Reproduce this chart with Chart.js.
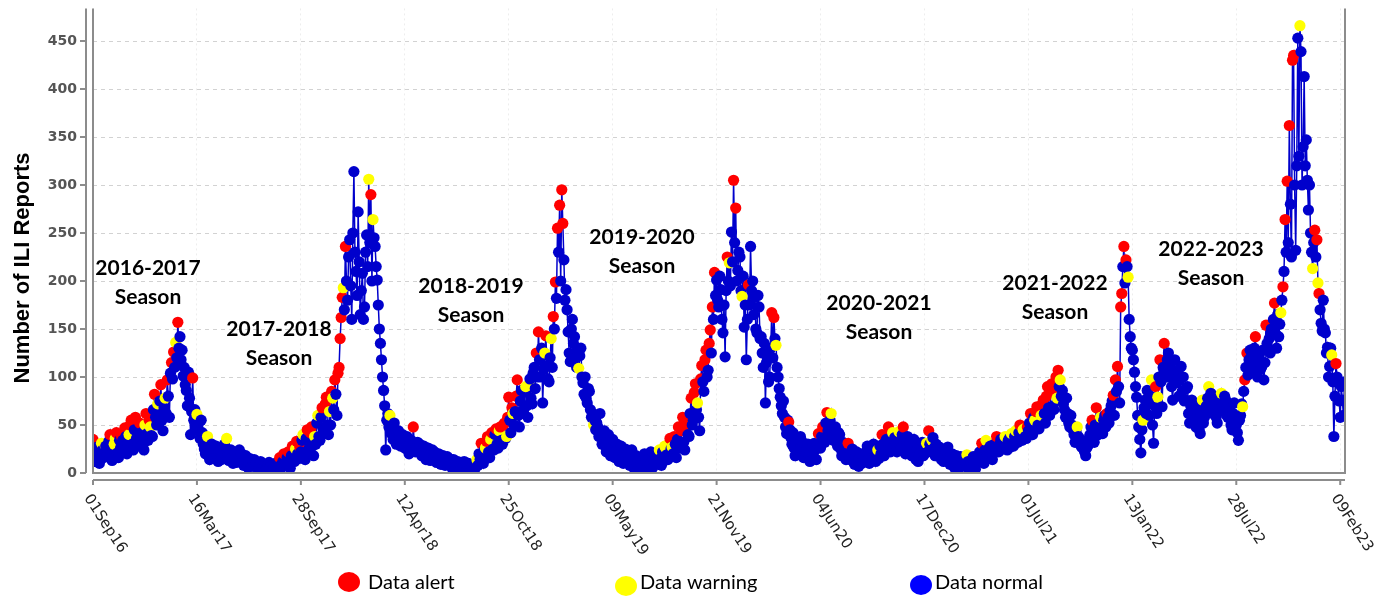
<!DOCTYPE html>
<html>
<head>
<meta charset="utf-8">
<title>ILI Reports</title>
<script src="https://cdn.jsdelivr.net/npm/chart.js@4.4.1/dist/chart.umd.min.js"></script>
<style>
  html, body { margin: 0; padding: 0; background: #fff; }
  #wrap { width: 1377px; height: 596px; position: relative; }
</style>
</head>
<body>
<div id="wrap"><canvas id="iliChart"></canvas></div>
<script>
// x axis: days since 01Sep16, one label every 28 weeks
var tickDays = [0, 196, 392, 588, 784, 980, 1176, 1372, 1568, 1764, 1960, 2156, 2352];
var tickLabels = ['01Sep16', '16Mar17', '28Sep17', '12Apr18', '25Oct18', '09May19', '21Nov19',
    '04Jun20', '17Dec20', '01Jul21', '13Jan22', '28Jul22', '09Feb23'];
var yTicks = [0, 50, 100, 150, 200, 250, 300, 350, 400, 450];

// readings every 2 days, one block of 52 weeks per array
var seasonStarts = [0, 364, 728, 1092, 1456, 1820, 2184];
var stepDays = 2;

var reports2016 = [
    35,22,12,25,27,14,10,20,31,24,16,30,28,18,  22,33,40,19,13,28,30,36,42,21,16,34,26,38,
    34,27,47,38,20,31,40,50,55,30,24,45,58,36,  28,44,52,35,42,30,24,50,62,41,34,55,48,39,
    38,66,82,58,50,72,60,75,92,55,44,68,78,62,  97,80,58,104,115,98,126,110,136,120,157,130,142,118,
    128,101,110,92,86,70,105,78,40,64,99,55,66,48,  61,50,44,36,55,42,30,25,20,32,38,22,14,27,
    30,20,16,25,28,18,12,22,24,14,15,26,30,19,  36,18,13,20,24,15,10,19,21,11,12,18,24,16,
    20,12,8,15,18,10,6,13,15,9,7,12,14,8,  10,6,3,8,12,5,2,7,9,4,4,9,11,6,  7,4,2,6,10,5,4,9,16,8,6,12,20,10];
var reports2017 = [
    10,16,22,9,5,18,28,14,12,25,33,20,15,27,  22,34,40,20,14,36,45,24,26,42,48,28,18,38,
    30,52,60,38,34,58,68,46,44,72,79,50,40,64,  50,85,78,66,97,82,60,104,110,140,162,183,193,170,
    236,200,180,225,243,195,160,250,314,230,210,185,272,220,  165,190,208,160,173,230,248,215,306,240,290,200,264,245,
    236,215,201,175,150,135,118,100,86,70,24,55,62,48,  60,45,40,35,52,38,30,42,44,32,28,36,40,30,
    26,33,38,24,20,30,34,27,48,30,22,28,32,25,  30,22,18,25,28,17,14,23,26,16,13,21,24,15,
    22,14,11,18,20,12,9,16,18,10,8,15,17,9,  15,9,6,12,14,7,4,10,12,5,3,8,11,6,  12,5,2,8,10,4,2,7,8,3,4,10,14,8];
var reports2018 = [
    20,14,31,18,10,24,26,33,38,22,16,35,42,25,  24,40,46,30,26,44,48,34,30,50,52,36,38,58,
    79,55,42,68,62,50,64,80,97,60,48,75,86,62,  66,84,90,70,58,92,98,78,72,104,110,88,125,100,
    147,118,100,130,73,108,125,143,112,98,95,120,140,110,  163,150,199,182,255,230,279,200,295,260,222,180,191,170,
    147,125,116,150,160,135,142,120,110,130,109,122,130,100,  94,82,100,78,73,88,85,66,58,62,50,55,45,52,
    48,38,62,42,30,36,44,28,22,34,40,26,18,30,  35,24,16,27,30,19,12,22,28,15,10,20,25,14,
    20,13,8,17,24,11,5,14,18,9,4,12,16,10,  12,8,20,14,4,11,15,9,22,16,6,13,18,11,  10,18,24,15,8,22,20,28,26,19,14,30,36,25];
var reports2019 = [
    27,20,38,30,16,35,48,26,28,44,58,32,24,50,  55,40,38,62,78,50,55,84,93,66,73,58,44,98,
    112,95,85,118,128,100,107,135,149,125,173,160,209,185,  201,180,173,205,191,160,146,175,121,190,225,200,219,195,
    251,220,305,240,276,200,211,230,225,190,184,205,152,175,  118,160,196,175,236,190,200,165,183,150,146,185,173,140,
    142,125,110,135,73,115,121,95,100,130,167,120,162,140,  133,110,100,88,79,70,62,75,58,48,41,55,53,45,
    37,30,42,26,18,33,35,22,24,38,34,20,16,28,  20,25,30,18,12,22,26,20,31,24,14,30,41,27,
    26,38,48,35,32,52,63,44,40,55,62,42,34,46,  48,36,28,42,40,25,18,32,30,20,14,24,31,19,  14,20,25,12,9,18,22,11,7,16,20,10,12,18];
var reports2020 = [
    16,22,28,14,10,19,24,17,30,21,12,26,24,15,  28,20,40,30,18,26,35,24,48,33,22,36,42,27,
    37,30,22,35,43,28,26,40,48,32,20,29,38,25,  31,22,18,27,35,20,14,24,12,19,28,22,32,18,
    20,27,31,22,44,30,24,34,37,26,18,30,28,21,  27,19,14,22,12,17,24,15,27,12,9,18,20,11,
    6,12,18,9,4,13,17,7,8,14,15,10,19,12,  3,8,12,6,17,10,4,11,14,18,22,15,31,20,
    10,24,34,20,16,26,28,18,14,27,30,22,38,26,  22,30,35,25,26,33,38,28,24,34,36,27,41,30,
    28,38,44,33,32,42,50,36,34,45,46,38,36,48,  44,52,62,47,40,58,55,64,69,50,46,66,60,72,  76,62,52,80,90,68,60,85,93,70,66,88,100,78];
var reports2021 = [
    107,90,97,80,86,72,66,58,78,62,52,48,60,50,  45,40,32,44,48,38,36,30,27,33,25,22,18,26,
    28,36,40,48,55,42,32,50,68,45,40,52,58,46,  41,55,60,48,62,58,52,65,70,75,81,60,97,85,
    111,90,73,173,187,215,236,198,222,215,204,160,142,130,  128,118,105,90,79,60,48,35,21,45,55,68,76,62,
    86,72,60,80,97,50,31,70,90,62,79,100,118,95,  69,110,135,105,100,118,125,100,111,90,76,105,118,96,
    94,105,80,98,111,85,100,75,76,88,90,62,52,70,  76,60,65,55,48,70,60,45,41,62,76,52,58,68,
    70,78,90,65,83,72,62,80,75,58,52,66,68,75,  83,70,64,80,76,60,58,68,70,50,45,62,73,55,  50,42,34,55,60,72,69,85,97,110,125,102,118,128];
var reports2022 = [
    121,105,110,130,142,115,100,120,125,108,111,128,97,115,  154,135,128,140,125,150,146,160,177,145,130,165,142,155,
    167,180,194,210,264,230,304,240,362,280,225,430,435,300,  232,320,453,330,466,439,300,340,413,320,347,305,274,300,
    250,230,213,240,253,225,243,198,187,170,156,148,180,150,  146,125,131,100,111,130,123,95,38,80,114,100,94,75,
    58,90,76,60,95];

// 0 = normal, 1 = warning, 2 = alert
var status2016 = [
    2,0,0,0,0,0,0,0,1,0,0,1,0,0,  0,0,2,0,0,0,1,1,2,0,0,0,0,2,  0,0,2,0,0,0,1,2,2,0,0,0,2,0,
    0,0,2,0,0,0,0,1,2,0,0,2,1,0,  0,0,2,0,0,1,0,0,2,0,0,0,1,0,  2,0,0,0,2,0,2,0,1,0,2,0,0,0,
    0,0,0,0,0,0,0,0,0,0,2,0,0,0,  1,0,0,0,0,0,0,0,0,0,1,0,0,0,  0,0,0,0,0,0,0,0,0,0,0,0,0,0,
    1,0,0,0,0,0,0,0,0,0,0,0,0,0,  0,0,0,0,0,0,0,0,0,0,0,0,0,0,  0,0,0,0,0,0,0,0,0,0,0,0,0,0,
    0,0,0,0,0,0,0,0,2,0,0,0,2,0];
var status2017 = [
    0,0,2,0,0,0,2,0,0,1,2,0,0,2,  0,0,1,0,0,0,2,0,0,2,2,0,0,1,  0,0,1,0,0,0,2,0,0,2,2,0,0,1,
    0,2,1,0,2,0,0,2,2,2,2,2,1,0,  2,0,0,0,0,0,0,0,0,0,0,0,0,0,  0,0,0,0,0,0,0,0,1,0,2,0,1,0,
    0,0,0,0,0,0,0,0,0,0,0,0,0,0,  1,0,0,0,0,0,0,0,0,0,0,0,0,0,  0,0,0,0,0,0,0,0,2,0,0,0,0,0,
    0,0,0,0,0,0,0,0,0,0,0,0,0,0,  0,0,0,0,0,0,0,0,0,0,0,0,0,0,  0,0,0,0,0,0,0,0,0,0,0,0,0,0,
    0,0,0,0,0,0,0,0,0,0,0,0,1,0];
var status2018 = [
    0,0,2,0,0,0,1,2,2,0,0,1,2,0,  0,0,2,0,0,1,2,0,0,2,2,0,1,2,  2,0,0,2,1,0,0,2,2,0,0,0,0,0,
    0,0,1,0,0,1,0,0,0,0,0,0,2,0,  2,0,0,0,0,0,1,2,0,0,0,0,1,0,  2,0,2,0,2,0,2,0,2,2,0,0,0,0,
    0,0,0,0,0,0,0,0,0,0,1,0,0,0,  0,0,0,0,0,0,0,0,0,0,1,0,0,0,  0,0,0,0,0,0,0,0,0,0,0,0,0,0,
    0,0,0,0,0,0,0,0,0,0,0,0,0,0,  0,0,0,0,0,0,0,0,0,0,0,0,0,0,  0,0,0,0,0,0,0,0,0,0,0,0,0,0,
    0,0,1,0,0,0,0,1,1,0,0,1,2,0];
var status2019 = [
    1,0,2,0,0,0,2,0,0,2,2,0,0,2,  2,0,0,0,2,0,0,2,2,0,1,0,0,2,  2,0,0,2,2,0,0,2,2,0,2,0,2,0,
    0,0,0,0,0,0,0,0,0,0,2,0,1,0,  0,0,2,0,2,0,0,0,0,0,1,0,0,0,  0,0,2,0,0,0,0,0,0,0,0,0,0,0,
    0,0,0,0,0,0,0,0,0,0,2,0,2,0,  1,0,0,0,0,0,0,0,0,0,0,0,2,0,  0,0,0,0,0,0,0,0,0,0,0,0,0,0,
    0,0,0,0,0,0,0,0,0,0,0,0,2,0,  0,0,2,0,0,0,2,0,0,0,1,0,0,0,  0,0,0,0,0,0,0,0,0,0,0,0,2,0,
    0,0,0,0,0,0,0,0,0,0,0,0,0,0];
var status2020 = [
    0,0,0,0,0,0,0,0,0,0,0,0,1,0,  0,0,2,0,0,0,0,0,2,0,0,0,1,0,  0,0,0,0,1,0,0,0,2,0,0,0,0,0,
    0,0,0,0,0,0,0,0,0,0,0,0,0,0,  0,0,1,0,2,0,0,1,0,0,0,0,0,0,  0,0,0,0,0,0,0,0,0,0,0,0,0,0,
    0,0,0,0,0,0,0,0,0,0,0,0,1,0,  0,0,0,0,0,0,0,0,0,0,0,0,2,0,  0,0,1,0,0,0,0,0,0,0,0,0,2,0,
    0,0,0,0,0,0,1,0,0,0,0,0,1,0,  0,0,1,0,0,0,2,0,0,1,1,0,0,2,  0,0,2,0,0,0,1,2,2,0,0,2,1,2,
    2,0,0,2,2,0,0,2,2,0,0,2,2,1];
var status2021 = [
    2,0,1,0,0,0,0,0,0,0,0,0,0,0,  0,0,0,0,1,0,0,0,0,0,0,0,0,0,  0,0,0,0,2,0,0,0,2,0,0,0,1,0,
    0,0,0,0,2,0,0,0,0,0,2,0,2,0,  2,0,0,2,2,0,2,0,2,0,1,0,0,0,  0,0,0,0,0,0,0,0,0,0,1,0,0,0,
    0,0,0,0,1,0,0,0,2,0,1,0,2,0,  0,0,2,0,0,0,0,0,0,0,0,0,0,0,  0,0,0,0,0,0,0,0,0,0,0,0,0,0,
    0,0,0,0,0,0,0,0,0,0,1,0,0,0,  0,0,1,0,0,0,0,0,0,0,0,0,0,0,  1,0,0,0,0,0,0,0,0,0,0,0,0,0,
    0,0,0,0,0,0,1,0,2,0,2,0,0,0];
var status2022 = [
    0,0,0,0,2,0,0,0,0,0,0,0,0,0,  2,0,0,0,0,0,0,0,2,0,0,0,0,0,  1,0,2,0,2,0,2,0,2,0,0,2,2,0,
    0,0,0,0,1,0,0,0,0,0,0,0,0,0,  0,0,1,0,2,0,2,1,2,0,0,0,0,0,  0,0,0,0,0,0,1,0,0,0,2,0,0,0,
    0,0,0,0,0];

var seasonValues = [reports2016, reports2017, reports2018, reports2019, reports2020, reports2021, reports2022];
var seasonStatus = [status2016, status2017, status2018, status2019, status2020, status2021, status2022];

var statusColors = ['#0000cc', '#ffff00', '#ff0000'];

var seasonNotes = [
    { x: 148, y: 268, text: '2016-2017' }, { x: 279, y: 329, text: '2017-2018' },
    { x: 471, y: 286, text: '2018-2019' }, { x: 642, y: 237, text: '2019-2020' },
    { x: 879, y: 303, text: '2020-2021' }, { x: 1055, y: 283, text: '2021-2022' },
    { x: 1211, y: 249, text: '2022-2023' }
];

var points = [];
var pointColors = [];
seasonStarts.forEach(function(start, k) {
    seasonValues[k].forEach(function(v, j) {
        points.push({ x: start + stepDays * j, y: v });
        pointColors.push(statusColors[seasonStatus[k][j] || 0]);
    });
});

var decorPlugin = {
    id: 'decor',
    afterDraw: function(chart) {
        var ctx = chart.ctx;
        var a = chart.chartArea;
        var xs = chart.scales.x;
        var ys = chart.scales.y;
        ctx.save();

        // plot frame + offset axis lines
        ctx.strokeStyle = '#8c8c8c';
        ctx.lineWidth = 2;
        ctx.beginPath();
        ctx.moveTo(a.left, a.top);
        ctx.lineTo(a.left, a.bottom);
        ctx.lineTo(a.right, a.bottom);
        ctx.lineTo(a.right, a.top);
        ctx.moveTo(a.left - 7, a.top);
        ctx.lineTo(a.left - 7, a.bottom);
        ctx.moveTo(a.left, a.bottom + 7);
        ctx.lineTo(a.right, a.bottom + 7);
        yTicks.forEach(function(v) {
            var py = ys.getPixelForValue(v);
            ctx.moveTo(a.left - 13, py);
            ctx.lineTo(a.left - 7, py);
        });
        tickDays.forEach(function(d) {
            var px = xs.getPixelForValue(d);
            ctx.moveTo(px, a.bottom + 7);
            ctx.lineTo(px, a.bottom + 12);
        });
        ctx.stroke();

        // rotated date labels
        ctx.fillStyle = '#222';
        ctx.font = '15px "DejaVu Sans"';
        ctx.textAlign = 'left';
        ctx.textBaseline = 'middle';
        tickDays.forEach(function(d, i) {
            var px = xs.getPixelForValue(d);
            ctx.save();
            ctx.translate(px - 6, a.bottom + 23);
            ctx.rotate(57 * Math.PI / 180);
            ctx.fillText(tickLabels[i], 0, 0);
            ctx.restore();
        });

        // y axis title
        ctx.save();
        ctx.fillStyle = '#000';
        ctx.font = 'bold 22px "Liberation Sans", Arial';
        ctx.textAlign = 'center';
        ctx.textBaseline = 'alphabetic';
        ctx.translate(28.5, 268);
        ctx.rotate(-Math.PI / 2);
        ctx.fillText('Number of ILI Reports', 0, 0);
        ctx.restore();

        // season notes
        ctx.fillStyle = '#000';
        ctx.font = 'bold 21px Lato';
        ctx.textAlign = 'center';
        ctx.textBaseline = 'middle';
        seasonNotes.forEach(function(n) {
            ctx.fillText(n.text, n.x, n.y);
            ctx.fillText('Season', n.x, n.y + 29);
        });

        // legend
        var legend = [
            { cx: 349, cy: 582, color: '#ff0000', tx: 368, text: 'Data alert' },
            { cx: 626, cy: 586, color: '#ffff00', tx: 640, text: 'Data warning' },
            { cx: 921, cy: 585, color: '#0000ff', tx: 935, text: 'Data normal' }
        ];
        ctx.font = '20px Lato';
        ctx.textAlign = 'left';
        legend.forEach(function(l) {
            ctx.fillStyle = l.color;
            ctx.beginPath();
            ctx.ellipse(l.cx, l.cy, 11, 10, 0, 0, Math.PI * 2);
            ctx.fill();
            ctx.fillStyle = '#000';
            ctx.fillText(l.text, l.tx, 583);
        });
        ctx.restore();
    }
};

var ctx = document.getElementById('iliChart').getContext('2d');
var iliChart = new Chart(ctx, {
    type: 'line',
    data: {
        datasets: [{
            label: 'ILI reports',
            data: points,
            borderColor: '#0000cc',
            borderWidth: 1.5,
            pointRadius: 5.6,
            pointBorderWidth: 0,
            pointBackgroundColor: pointColors,
            pointBorderColor: pointColors,
            tension: 0
        }]
    },
    options: {
        responsive: true,
        maintainAspectRatio: false,
        animation: false,
        layout: { padding: { left: 0, top: 7, right: 32, bottom: 0 } },
        plugins: {
            legend: { display: false },
            tooltip: { enabled: false }
        },
        scales: {
            x: {
                type: 'linear',
                min: 0,
                max: 2361,
                afterBuildTicks: function(scale) {
                    scale.ticks = tickDays.map(function(v) { return { value: v }; });
                },
                afterFit: function(scale) { scale.height = 123; },
                ticks: { display: false },
                grid: { color: 'rgba(0,0,0,0.07)', drawTicks: false },
                border: { display: false, dash: [2, 3] }
            },
            y: {
                min: 0,
                max: 484,
                afterBuildTicks: function(scale) {
                    scale.ticks = yTicks.map(function(v) { return { value: v }; });
                },
                afterFit: function(scale) { scale.width = 93; },
                ticks: {
                    padding: 0,
                    color: '#555',
                    font: { family: 'DejaVu Sans', size: 14, weight: 'bold' }
                },
                grid: { color: '#d2d2d2', drawTicks: true, tickLength: 16, tickColor: 'rgba(0,0,0,0)' },
                border: { display: false, dash: [4, 4] }
            }
        }
    },
    plugins: [decorPlugin]
});
</script>
</body>
</html>
